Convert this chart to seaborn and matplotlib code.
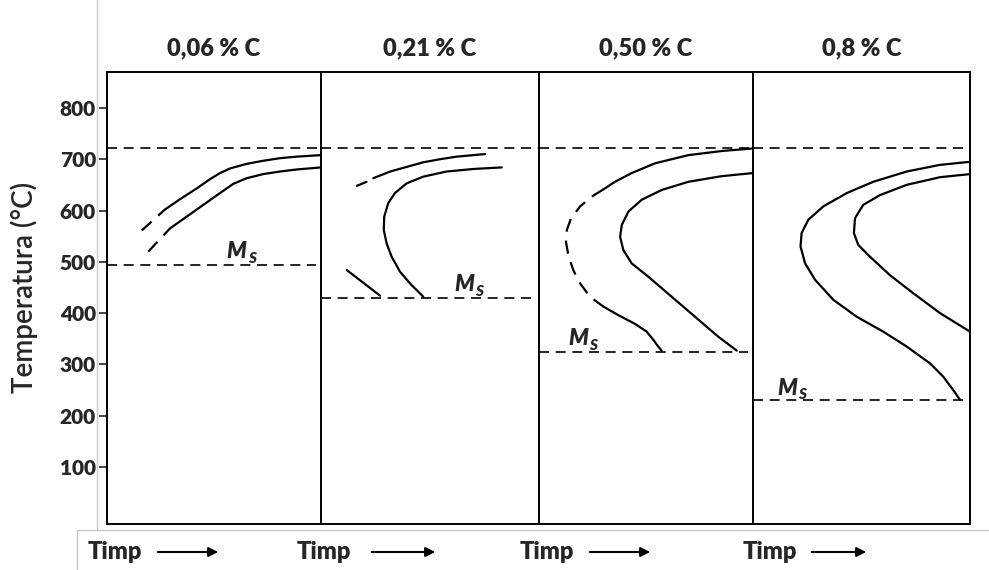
import matplotlib
matplotlib.use("Agg")
import matplotlib.pyplot as plt
import seaborn as sns
from matplotlib.lines import Line2D
from matplotlib.patches import FancyArrowPatch

# titluri si valori Ms pentru fiecare otel
titluri = ["0,06 % C", "0,21 % C", "0,50 % C", "0,8 % C"]
ms_vals = [493, 429, 324, 230]
ms_text_x = [0.56, 0.61, 0.135, 0.11]
ms_text_t = [521, 455, 350, 254]
a1_temp = 721
yticks = [100, 200, 300, 400, 500, 600, 700, 800]

# 0,06 % C
p1_sup_dash_x = [0.162, 0.271]
p1_sup_dash_t = [561, 602]
p1_sup_x = [0.271, 0.341, 0.419, 0.481, 0.528, 0.575, 0.653, 0.730, 0.808, 0.886, 1.0]
p1_sup_t = [602, 622, 643, 661, 673, 682, 691, 697, 702, 705, 708]
p1_inf_dash_x = [0.193, 0.294]
p1_inf_dash_t = [520, 565]
p1_inf_x = [0.294, 0.372, 0.450, 0.528, 0.590, 0.653, 0.730, 0.808, 0.886, 1.0]
p1_inf_t = [565, 588, 611, 634, 652, 663, 671, 676, 680, 684]

# 0,21 % C
p2_sup_dash_x = [0.164, 0.209]
p2_sup_dash_t = [648, 656]
p2_sup_x = [0.240, 0.317, 0.393, 0.469, 0.546, 0.622, 0.752]
p2_sup_t = [663, 676, 685, 694, 700, 705, 710]
p2_inf_x = [0.829, 0.699, 0.576, 0.469, 0.393, 0.339, 0.308, 0.290, 0.288, 0.301,
            0.324, 0.362, 0.408, 0.469]
p2_inf_t = [684, 681, 676, 666, 653, 634, 614, 588, 562, 536, 510, 481, 458, 432]
p2_scurt_x = [0.118, 0.271]
p2_scurt_t = [484, 434]

# 0,50 % C
p3_ext_sus_x = [1.0, 0.854, 0.698, 0.542, 0.433, 0.355, 0.300]
p3_ext_sus_t = [721, 716, 708, 692, 673, 656, 641]
p3_ext_dash_x = [0.300, 0.246, 0.192, 0.150, 0.130, 0.126, 0.137, 0.160, 0.192, 0.238, 0.300]
p3_ext_dash_t = [641, 627, 608, 585, 562, 539, 513, 484, 458, 432, 413]
p3_ext_jos_x = [0.300, 0.371, 0.449, 0.503, 0.534, 0.557, 0.573]
p3_ext_jos_t = [413, 396, 379, 364, 348, 335, 327]
p3_int_x = [1.0, 0.854, 0.698, 0.573, 0.480, 0.418, 0.387, 0.379, 0.394, 0.433,
            0.511, 0.620, 0.729, 0.838, 0.924]
p3_int_t = [673, 667, 656, 640, 621, 598, 572, 549, 523, 497, 471, 432, 393, 354, 327]

# 0,8 % C
p4_ext_x = [1.0, 0.862, 0.708, 0.554, 0.432, 0.324, 0.255, 0.224, 0.219, 0.240, 0.286,
            0.370, 0.478, 0.600, 0.708, 0.816, 0.877, 0.923, 0.954]
p4_ext_t = [695, 689, 676, 656, 634, 608, 582, 556, 530, 497, 465, 426, 393, 364, 335,
            302, 276, 250, 231]
p4_int_x = [1.0, 0.862, 0.708, 0.585, 0.508, 0.470, 0.465, 0.485, 0.539, 0.631, 0.738,
            0.862, 1.0]
p4_int_t = [671, 665, 650, 630, 611, 585, 556, 533, 510, 474, 439, 400, 364]

curbe = [
    [(p1_sup_dash_x, p1_sup_dash_t, True), (p1_sup_x, p1_sup_t, False),
     (p1_inf_dash_x, p1_inf_dash_t, True), (p1_inf_x, p1_inf_t, False)],
    [(p2_sup_dash_x, p2_sup_dash_t, False), (p2_sup_x, p2_sup_t, False),
     (p2_inf_x, p2_inf_t, False), (p2_scurt_x, p2_scurt_t, False)],
    [(p3_ext_sus_x, p3_ext_sus_t, False), (p3_ext_dash_x, p3_ext_dash_t, True),
     (p3_ext_jos_x, p3_ext_jos_t, False), (p3_int_x, p3_int_t, False)],
    [(p4_ext_x, p4_ext_t, False), (p4_int_x, p4_int_t, False)],
]

sns.set_theme(style="white")
plt.rcParams['font.family'] = ['Lato', 'DejaVu Sans']

W, H = 989, 570
fig = plt.figure(figsize=(W / 100, H / 100), dpi=100)

margini = [107, 321, 539, 753, 970]
y_sus, y_jos = 72, 524
dash = (0, (6, 4))

for i in range(4):
    x0, x1 = margini[i], margini[i + 1]
    ax = fig.add_axes([x0 / W, 1 - y_jos / H, (x1 - x0) / W, (y_jos - y_sus) / H])
    ax.set_xlim(0, 1)
    ax.set_ylim(-11, 870)
    for cx, ct, dashed in curbe[i]:
        sns.lineplot(x=cx, y=ct, ax=ax, sort=False, estimator=None, color="black",
                     linewidth=1.6, linestyle=dash if dashed else "-")
    ax.axhline(a1_temp, color="black", linewidth=1.2, linestyle=dash)
    ax.hlines(ms_vals[i], 0, 0.975, color="black", linewidth=1.2, linestyle=dash)
    # eticheta M_S (italic, bold)
    ax.text(ms_text_x[i], ms_text_t[i], "M", fontsize=16, fontstyle="italic",
            fontweight="heavy", ha="left", va="center")
    ax.annotate("S", xy=(ms_text_x[i], ms_text_t[i]), xytext=(15, -5),
                textcoords="offset points", fontsize=11, fontstyle="italic",
                fontweight="heavy", ha="left", va="center")
    ax.set_title(titluri[i], fontsize=17, fontweight="heavy", pad=12)
    ax.set_xticks([])
    for s in ax.spines.values():
        s.set_color("black")
        s.set_linewidth(1.4)
    if i == 0:
        ax.set_yticks(yticks)
        ax.set_yticklabels([str(v) for v in yticks], fontsize=15, fontweight="heavy")
        ax.tick_params(axis="y", direction="out", length=6, width=1.2, pad=2, left=True)
    else:
        ax.set_yticks([])
    ax.set_xlabel("")
    ax.set_ylabel("")

fig.text(24 / W, 1 - 287 / H, "Temperatura (°C)", rotation=90, fontsize=20,
         fontweight="semibold", ha="center", va="center")

# etichete de timp cu sageti
timp_x = [88, 297, 520, 743]
sageata_x = [(155, 221), (369, 438), (587, 653), (809, 869)]
for tx, (a0, a1) in zip(timp_x, sageata_x):
    fig.text(tx / W, 1 - 552 / H, "Timp", fontsize=17, fontweight="heavy", ha="left", va="center")
    fig.add_artist(FancyArrowPatch(
        (a0 / W, 1 - 552 / H), (a1 / W, 1 - 552 / H), transform=fig.transFigure,
        arrowstyle="-|>", mutation_scale=14, color="black", linewidth=1.5))

# chenarul gri din imagine
gri = "#c8c8c8"
fig.add_artist(Line2D([97 / W, 97 / W], [1, 1 - 530 / H], transform=fig.transFigure, color=gri, lw=1))
fig.add_artist(Line2D([77 / W, 1], [1 - 530 / H, 1 - 530 / H], transform=fig.transFigure, color=gri, lw=1))
fig.add_artist(Line2D([77 / W, 77 / W], [1 - 530 / H, 0], transform=fig.transFigure, color=gri, lw=1))

fig.savefig("out.png", dpi=100)
